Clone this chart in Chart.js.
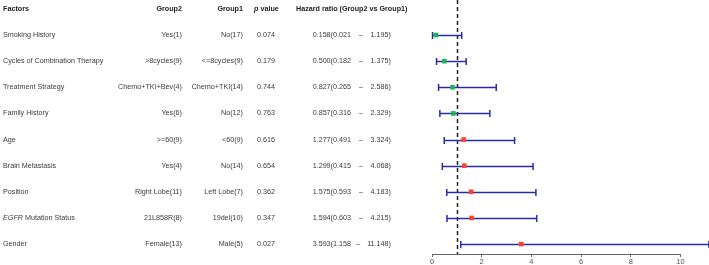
<!DOCTYPE html>
<html><head><meta charset="utf-8">
<script src="https://cdn.jsdelivr.net/npm/chart.js@4/dist/chart.umd.min.js"></script>
<style>html,body{margin:0;padding:0;background:#fff;}#wrap{width:709px;height:265px;position:relative;}</style>
</head><body><div id="wrap"><canvas id="c"></canvas></div>
<script>
const factors = ["Smoking History","Cycles of Combination Therapy","Treatment Strategy","Family History","Age","Brain Metastasis","Position","EGFR Mutation Status","Gender"];
const group2 = ["Yes(1)",">8cycles(9)","Chemo+TKI+Bev(4)","Yes(6)",">=60(9)","Yes(4)","Right Lobe(11)","21L858R(8)","Female(13)"];
const group1 = ["No(17)","<=8cycles(9)","Chemo+TKI(14)","No(12)","<60(9)","No(14)","Left Lobe(7)","19del(10)","Male(5)"];
const pValues = ["0.074","0.179","0.744","0.763","0.616","0.654","0.362","0.347","0.027"];
const hr = [0.158,0.500,0.827,0.857,1.277,1.299,1.575,1.594,3.593];
const lower = [0.021,0.182,0.265,0.316,0.491,0.415,0.593,0.603,1.158];
const upper = [1.195,1.375,2.586,2.329,3.324,4.068,4.183,4.215,11.148];
const xTicks = [0,2,4,6,8,10];

const FONT = "Liberation Sans, Arial, sans-serif";
const TXT = "#3a3a3a";
const FS = 7.2;

const tablePlugin = {
  id: 'table',
  afterDraw(chart) {
    const ctx = chart.ctx, x = chart.scales.x, y = chart.scales.y;
    ctx.save();
    ctx.textBaseline = 'middle';
    const hy = y.getPixelForValue(0);
    ctx.fillStyle = '#222';
    ctx.font = 'bold ' + FS + 'px ' + FONT;
    ctx.textAlign = 'left'; ctx.fillText('Factors', 3, hy);
    ctx.textAlign = 'right'; ctx.fillText('Group2', 182, hy); ctx.fillText('Group1', 243, hy);
    ctx.textAlign = 'left';
    ctx.font = 'italic bold ' + FS + 'px ' + FONT; ctx.fillText('p', 254, hy);
    const pw = ctx.measureText('p ').width;
    ctx.font = 'bold ' + FS + 'px ' + FONT; ctx.fillText('value', 254 + pw, hy);
    ctx.fillText('Hazard ratio (Group2 vs Group1)', 296, hy);
    ctx.fillStyle = TXT;
    for (let i = 0; i < factors.length; i++) {
      const py = y.getPixelForValue(i + 1);
      ctx.font = FS + 'px ' + FONT;
      ctx.textAlign = 'left';
      if (factors[i].startsWith('EGFR')) {
        ctx.font = 'italic ' + FS + 'px ' + FONT; ctx.fillText('EGFR', 3, py);
        const w = ctx.measureText('EGFR ').width;
        ctx.font = FS + 'px ' + FONT; ctx.fillText(factors[i].slice(5), 3 + w, py);
      } else ctx.fillText(factors[i], 3, py);
      ctx.textAlign = 'right';
      ctx.fillText(group2[i], 182, py);
      ctx.fillText(group1[i], 243, py);
      ctx.textAlign = 'left';
      ctx.fillText(pValues[i], 257, py);
      ctx.textAlign = 'right';
      ctx.fillText(hr[i].toFixed(3) + '(' + lower[i].toFixed(3), 351, py);
      ctx.textAlign = 'center';
      ctx.fillText('–', upper[i] >= 10 ? 358 : 361, py);
      ctx.textAlign = 'right';
      ctx.fillText(upper[i].toFixed(3) + ')', 391, py);
    }
    ctx.restore();
  },
  beforeDatasetsDraw(chart) {
    const ctx = chart.ctx, x = chart.scales.x, y = chart.scales.y;
    ctx.save();
    const ay = Math.round(y.getPixelForValue(9.38));
    ctx.strokeStyle = '#666'; ctx.lineWidth = 1;
    ctx.beginPath(); ctx.moveTo(x.getPixelForValue(xTicks[0]), ay + 0.5); ctx.lineTo(x.getPixelForValue(xTicks[xTicks.length-1]), ay + 0.5); ctx.stroke();
    const rx = Math.round(x.getPixelForValue(1)) + 0.5;
    ctx.strokeStyle = '#222'; ctx.lineWidth = 1.5; ctx.setLineDash([4, 3]);
    ctx.beginPath(); ctx.moveTo(rx, 0); ctx.lineTo(rx, ay); ctx.stroke();
    ctx.setLineDash([]);
    ctx.strokeStyle = '#2b2ba6'; ctx.lineWidth = 1.5;
    for (let i = 0; i < hr.length; i++) {
      const py = Math.round(y.getPixelForValue(i + 1)) + 0.5;
      const x1 = x.getPixelForValue(lower[i]), x2 = x.getPixelForValue(upper[i]);
      ctx.beginPath(); ctx.moveTo(x1, py); ctx.lineTo(x2, py); ctx.stroke();
      ctx.beginPath(); ctx.moveTo(x1, py - 3.5); ctx.lineTo(x1, py + 3.5);
      ctx.moveTo(x2, py - 3.5); ctx.lineTo(x2, py + 3.5); ctx.stroke();
    }
    ctx.restore();
  }
};

new Chart(document.getElementById('c'), {
  type: 'scatter',
  data: {
    datasets: [{
      data: hr.map((v, i) => ({x: v, y: i + 1})),
      pointStyle: 'rect',
      pointRadius: 3.3,
      pointBackgroundColor: hr.map(v => v < 1 ? '#1fb356' : '#f5472b'),
      pointBorderWidth: 0,
      pointBorderColor: 'rgba(0,0,0,0)',
      clip: false
    }]
  },
  options: {
    responsive: true, maintainAspectRatio: false, animation: false,
    layout: {autoPadding: false, padding: {left: 432, right: 0, top: 0, bottom: -1}},
    plugins: {legend: {display: false}, tooltip: {enabled: false}},
    scales: {
      x: {
        type: 'linear', min: 0, max: 11.15,
        afterBuildTicks: s => { s.ticks = xTicks.map(v => ({value: v})); },
        border: {display: false},
        grid: {display: true, drawOnChartArea: false, drawTicks: true, tickLength: 3, color: '#666', tickColor: '#666'},
        ticks: {color: '#555', font: {size: 7.5, family: FONT}, padding: 0, maxRotation: 0}
      },
      y: {
        type: 'linear', reverse: true, min: -0.34, max: 9.38, display: false
      }
    }
  },
  plugins: [tablePlugin]
});
</script></body></html>
